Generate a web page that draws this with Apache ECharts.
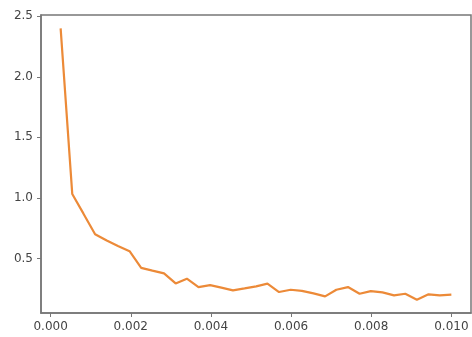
<!DOCTYPE html>
<html>
<head>
<meta charset="utf-8">
<script src="https://cdn.jsdelivr.net/npm/echarts@6/dist/echarts.min.js"></script>
<style>html,body{margin:0;padding:0;background:#fff}#c{width:472px;height:337px}</style>
</head>
<body>
<div id="c"></div>
<script>
const xValues = [0.00025, 0.00054, 0.00082, 0.00111, 0.0014, 0.00168, 0.00197, 0.00226, 0.00254, 0.00283,
  0.00312, 0.0034, 0.00369, 0.00398, 0.00426, 0.00455, 0.00484, 0.00513, 0.00541, 0.0057,
  0.00599, 0.00627, 0.00656, 0.00685, 0.00713, 0.00742, 0.00771, 0.00799, 0.00828, 0.00857,
  0.00885, 0.00914, 0.00943, 0.00971, 0.01];
const yValues = [2.40, 1.033, 0.87, 0.70, 0.648, 0.603, 0.56, 0.423, 0.40, 0.377,
  0.294, 0.333, 0.264, 0.28, 0.26, 0.237, 0.253, 0.27, 0.292, 0.223,
  0.242, 0.233, 0.212, 0.187, 0.242, 0.264, 0.209, 0.231, 0.22, 0.196,
  0.209, 0.16, 0.204, 0.196, 0.201];
const xTicks = [0, 0.002, 0.004, 0.006, 0.008, 0.010];
const yTicks = [0.5, 1.0, 1.5, 2.0, 2.5];

const chart = echarts.init(document.getElementById('c'), null, {renderer: 'canvas'});
const labelStyle = {fontFamily: 'DejaVu Sans', fontSize: 12, color: '#444'};
chart.setOption({
  animation: false,
  grid: {left: 41, right: 1, top: 15, bottom: 24, show: true, borderColor: '#777', borderWidth: 1.5, containLabel: false},
  xAxis: {
    type: 'value', min: -0.00024, max: 0.01049,
    splitLine: {show: false},
    axisLine: {show: true, onZero: false, lineStyle: {color: '#777', width: 1.5}},
    axisTick: {show: true, length: 4, customValues: xTicks, lineStyle: {color: '#777', width: 1}},
    axisLabel: Object.assign({margin: 8, customValues: xTicks, formatter: v => v.toFixed(3)}, labelStyle)
  },
  yAxis: {
    type: 'value', min: 0.05, max: 2.51,
    splitLine: {show: false},
    axisLine: {show: true, onZero: false, lineStyle: {color: '#777', width: 1.5}},
    axisTick: {show: true, length: 4, customValues: yTicks, lineStyle: {color: '#777', width: 1}},
    axisLabel: Object.assign({margin: 8, customValues: yTicks, formatter: v => v.toFixed(1)}, labelStyle)
  },
  series: [{
    type: 'line',
    data: xValues.map((x, i) => [x, yValues[i]]),
    showSymbol: false,
    lineStyle: {color: '#ec8a38', width: 2.2},
    itemStyle: {color: '#ec8a38'}
  }]
});
</script>
</body>
</html>
